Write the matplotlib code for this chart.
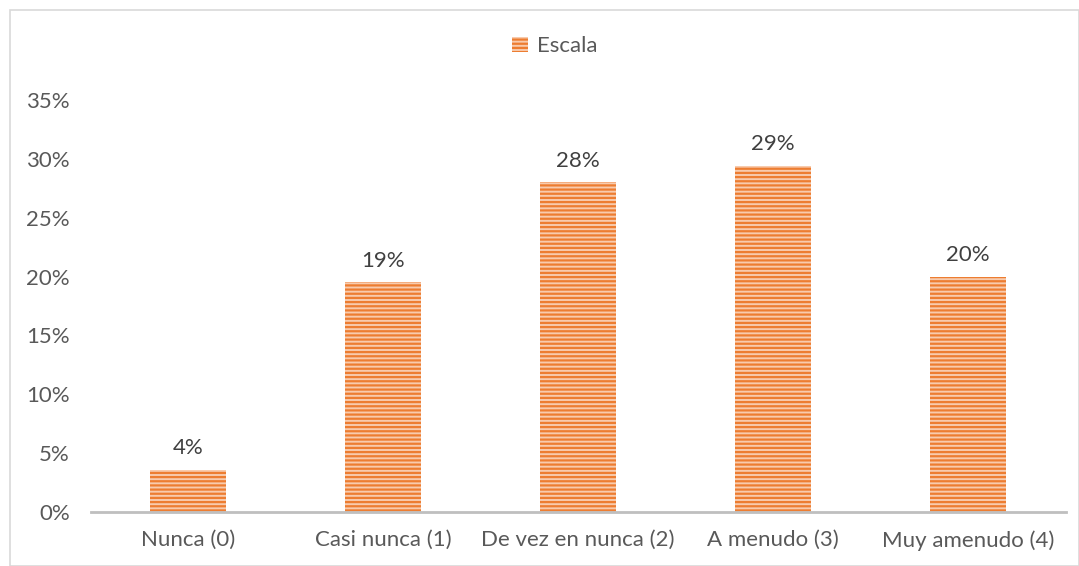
import matplotlib.pyplot as plt
from matplotlib.patches import Rectangle
from matplotlib.ticker import FuncFormatter

categorias = ['Nunca (0)', 'Casi nunca (1)', 'De vez en nunca (2)', 'A menudo (3)', 'Muy amenudo (4)']
valores = [3.6, 19.5, 28.0, 29.4, 20.0]
etiquetas = ['4%', '19%', '28%', '29%', '20%']
yticks = [0, 5, 10, 15, 20, 25, 30, 35]

plt.rcParams['font.family'] = ['Lato', 'DejaVu Sans']
plt.rcParams['hatch.color'] = '#ED7D31'
plt.rcParams['hatch.linewidth'] = 1.6

gris = '#595959'
fs = 16
fig = plt.figure(figsize=(10.79, 5.66), dpi=100)
ax = fig.add_axes([0.0839, 0.0954, 0.9036, 0.7279])

x = range(len(categorias))
bars = ax.bar(x, valores, width=0.385, color='#F8CBAD', edgecolor='#ED7D31',
              hatch='----', linewidth=0, label='Escala')

for b, t in zip(bars, etiquetas):
    ax.text(b.get_x() + b.get_width() / 2, b.get_height() + 1.0, t,
            ha='center', va='bottom', fontsize=fs, color='#404040')

ax.set_xlim(-0.5, len(categorias) - 0.5)
ax.set_ylim(0, 35)
ax.set_yticks(yticks)
ax.yaxis.set_major_formatter(FuncFormatter(lambda v, p: f'{v:.0f}%'))
ax.set_xticks(list(x))
ax.set_xticklabels(categorias)
ax.tick_params(axis='both', length=0, labelsize=fs, colors=gris)
ax.tick_params(axis='x', pad=13)
ax.tick_params(axis='y', pad=15)
for s in ['top', 'right', 'left']:
    ax.spines[s].set_visible(False)
ax.spines['bottom'].set_color('#BFBFBF')
ax.spines['bottom'].set_linewidth(2)

leg = ax.legend(loc='center', bbox_to_anchor=(0.476, 1.13), frameon=False,
                fontsize=fs, handlelength=0.7, handleheight=0.7, handletextpad=0.4)
for t in leg.get_texts():
    t.set_color(gris)

fig.patches.append(Rectangle((10 / 1079, 0), 1 - 10 / 1079, 1 - 10 / 566,
                             transform=fig.transFigure, fill=False,
                             edgecolor='#D9D9D9', linewidth=1.2))

fig.savefig('out.png', dpi=100)
